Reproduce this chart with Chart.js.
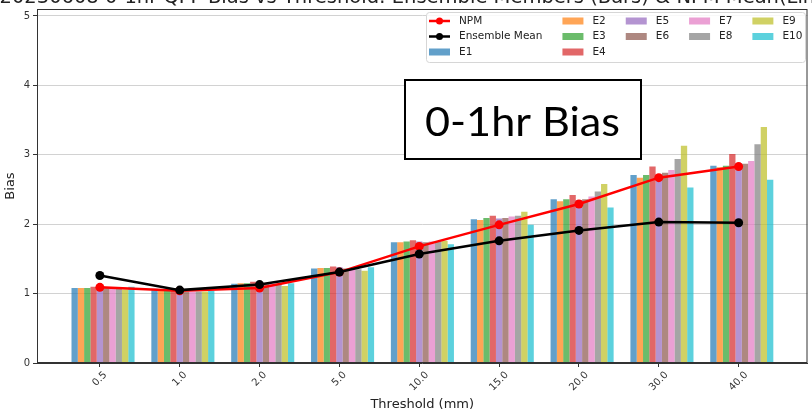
<!DOCTYPE html>
<html>
<head>
<meta charset="utf-8">
<script src="https://cdn.jsdelivr.net/npm/chart.js@4.4.0/dist/chart.umd.min.js"></script>
<style>
    html, body { margin: 0; padding: 0; background: #ffffff; }
</style>
</head>
<body>
<canvas id="Chart" width="812" height="414"></canvas>
<script>
// thresholds (mm) along the x axis
const thresholds = ['0.5', '1.0', '2.0', '5.0', '10.0', '15.0', '20.0', '30.0', '40.0'];

// mean lines
const npmMean = [1.09, 1.04, 1.08, 1.31, 1.68, 1.99, 2.29, 2.67, 2.83];
const ensembleMean = [1.26, 1.05, 1.13, 1.31, 1.57, 1.76, 1.91, 2.03, 2.02];

// ensemble members, one bar per threshold
const e1 = [1.08, 1.07, 1.14, 1.36, 1.74, 2.07, 2.36, 2.71, 2.84];
const e2 = [1.08, 1.06, 1.15, 1.37, 1.74, 2.06, 2.33, 2.67, 2.82];
const e3 = [1.08, 1.06, 1.15, 1.37, 1.75, 2.09, 2.36, 2.71, 2.84];
const e4 = [1.10, 1.08, 1.17, 1.39, 1.77, 2.12, 2.42, 2.83, 3.01];
const e5 = [1.11, 1.04, 1.15, 1.38, 1.75, 2.08, 2.35, 2.67, 2.88];
const e6 = [1.08, 1.03, 1.14, 1.36, 1.74, 2.09, 2.36, 2.74, 2.87];
const e7 = [1.08, 1.03, 1.14, 1.36, 1.75, 2.11, 2.40, 2.78, 2.91];
const e8 = [1.07, 1.03, 1.14, 1.35, 1.75, 2.12, 2.47, 2.94, 3.15];
const e9 = [1.06, 1.03, 1.11, 1.33, 1.76, 2.18, 2.58, 3.13, 3.40];
const e10 = [1.10, 1.04, 1.15, 1.38, 1.71, 1.99, 2.24, 2.53, 2.64];

const members = [e1, e2, e3, e4, e5, e6, e7, e8, e9, e10];
const memberNames = ['E1', 'E2', 'E3', 'E4', 'E5', 'E6', 'E7', 'E8', 'E9', 'E10'];
// tab10 with alpha 0.7
const memberColors = [
    'rgba(31,119,180,0.7)', 'rgba(255,127,14,0.7)', 'rgba(44,160,44,0.7)',
    'rgba(214,39,40,0.7)', 'rgba(148,103,189,0.7)', 'rgba(140,86,75,0.7)',
    'rgba(227,119,194,0.7)', 'rgba(127,127,127,0.7)', 'rgba(188,189,34,0.7)',
    'rgba(23,190,207,0.7)'
];

const titleText = '20230608 0-1hr QPF Bias vs Threshold: Ensemble Members (Bars) & NPM Mean(Lines)';
const noteText = '0-1hr Bias';

const FONT = "'DejaVu Sans', sans-serif";
const groupShare = 0.79; // part of the slot used by the 10 bars
// matplotlib style: the 5th bar sits on the tick, so shift the group half a bar
const barShift = 0.5 * groupShare / members.length;

Chart.defaults.font.family = FONT;
Chart.defaults.color = '#333';

const datasets = [
    {
        type: 'line',
        label: 'NPM',
        data: npmMean.map((v, i) => ({x: i, y: v})),
        borderColor: '#ff0000',
        backgroundColor: '#ff0000',
        borderWidth: 2.5,
        pointRadius: 4.5,
        pointBorderWidth: 0,
        order: 1
    },
    {
        type: 'line',
        label: 'Ensemble Mean',
        data: ensembleMean.map((v, i) => ({x: i, y: v})),
        borderColor: '#000000',
        backgroundColor: '#000000',
        borderWidth: 2.5,
        pointRadius: 4.5,
        pointBorderWidth: 0,
        order: 0
    }
];
members.forEach((vals, k) => {
    datasets.push({
        type: 'bar',
        label: memberNames[k],
        data: vals.map((v, i) => ({x: i + barShift, y: v})),
        backgroundColor: memberColors[k],
        borderWidth: 0,
        categoryPercentage: groupShare,
        barPercentage: 1,
        order: 2
    });
});

// box around the plot, x tick labels, title, note box and legend
const decorations = {
    id: 'decorations',
    afterDatasetsDraw(chart) {
        const {ctx, chartArea: a} = chart;
        ctx.save();
        ctx.strokeStyle = '#333';
        ctx.lineWidth = 1;
        ctx.strokeRect(a.left + 0.5, a.top + 0.5, a.right - a.left - 1, a.bottom - a.top - 1);
        ctx.restore();
    },
    afterDraw(chart) {
        const {ctx, chartArea: a} = chart;
        const xs = chart.scales.x;
        ctx.save();

        // rotated tick labels, centred under each tick
        ctx.font = '10px ' + FONT;
        ctx.fillStyle = '#333';
        ctx.textAlign = 'center';
        ctx.textBaseline = 'middle';
        thresholds.forEach((t, i) => {
            const w = ctx.measureText(t).width;
            const h = 10;
            const boxH = (w + h) * Math.SQRT1_2;
            const px = xs.getPixelForValue(i);
            const py = a.bottom + 7 + boxH / 2;
            ctx.save();
            ctx.translate(px, py);
            ctx.rotate(-Math.PI / 4);
            ctx.fillText(t, 0, 0);
            ctx.restore();
        });

        // title, mostly above the top edge
        ctx.font = '19.5px ' + FONT;
        ctx.fillStyle = '#222';
        ctx.textAlign = 'center';
        ctx.textBaseline = 'alphabetic';
        ctx.fillText(titleText, (a.left + a.right) / 2, 3);

        // note box
        ctx.fillStyle = '#ffffff';
        ctx.fillRect(405, 80, 236, 79);
        ctx.strokeStyle = '#000';
        ctx.lineWidth = 2;
        ctx.strokeRect(405, 80, 236, 79);
        ctx.fillStyle = '#000';
        ctx.font = '40px Lato, sans-serif';
        ctx.textAlign = 'left';
        const nw = ctx.measureText(noteText).width;
        ctx.save();
        ctx.translate(425, 136);
        ctx.scale(195 / nw, 1);
        ctx.fillText(noteText, 0, 0);
        ctx.restore();

        // legend: 5 columns, filled column by column
        const items = chart.data.datasets;
        const lx = 426, ly = 12, lw = 379, lh = 50;
        ctx.beginPath();
        ctx.roundRect(lx + 0.5, ly + 0.5, lw, lh, 3);
        ctx.fillStyle = 'rgba(255,255,255,0.85)';
        ctx.fill();
        ctx.strokeStyle = '#d6d6d6';
        ctx.lineWidth = 1;
        ctx.stroke();

        const cols = [[0, 1, 2], [3, 4, 5], [6, 7], [8, 9], [10, 11]];
        const rowY = [21, 36.5, 52];
        ctx.font = '10.5px ' + FONT;
        ctx.textBaseline = 'middle';
        let cx = 429;
        cols.forEach(col => {
            let maxW = 0;
            col.forEach((idx, r) => {
                const d = items[idx];
                const y = rowY[r];
                if (d.type === 'line') {
                    ctx.strokeStyle = d.borderColor;
                    ctx.lineWidth = 2.5;
                    ctx.beginPath();
                    ctx.moveTo(cx, y);
                    ctx.lineTo(cx + 21, y);
                    ctx.stroke();
                    ctx.fillStyle = d.borderColor;
                    ctx.beginPath();
                    ctx.arc(cx + 10.5, y, 3.5, 0, Math.PI * 2);
                    ctx.fill();
                } else {
                    ctx.fillStyle = d.backgroundColor;
                    ctx.fillRect(cx, y - 3.5, 21, 7);
                }
                ctx.fillStyle = '#222';
                ctx.fillText(d.label, cx + 30, y);
                maxW = Math.max(maxW, ctx.measureText(d.label).width);
            });
            cx += 30 + maxW + 20;
        });
        ctx.restore();
    }
};

var context = document.getElementById('Chart').getContext('2d');

var myChart = new Chart(context, {
    type: 'bar',
    data: {datasets: datasets},
    options: {
        responsive: false,
        animation: false,
        devicePixelRatio: 1,
        layout: {padding: {left: 0, top: 7, right: 3, bottom: 0}},
        plugins: {
            legend: {display: false},
            tooltip: {enabled: false}
        },
        scales: {
            x: {
                type: 'linear',
                offset: false,
                min: -0.7875,
                max: 8.8625,
                afterFit: scale => { scale.height = 51; },
                ticks: {display: false, stepSize: 1, includeBounds: false},
                grid: {offset: false, drawOnChartArea: false, drawTicks: true, tickLength: 4, color: '#333'},
                border: {display: true, color: '#333'},
                title: {display: true, text: 'Threshold (mm)', font: {size: 13}, color: '#222', padding: {top: 0, bottom: 2}}
            },
            y: {
                min: 0,
                max: 5.1,
                afterFit: scale => { scale.width = 37; },
                ticks: {stepSize: 1, includeBounds: false, padding: 3, font: {size: 10}, color: '#333'},
                grid: {color: '#d2d2d2', lineWidth: 1, tickLength: 4, tickColor: '#333'},
                border: {display: true, color: '#333'},
                title: {display: true, text: 'Bias', font: {size: 13}, color: '#222', padding: {top: 3, bottom: 0}}
            }
        }
    },
    plugins: [decorations]
});
</script>
</body>
</html>
